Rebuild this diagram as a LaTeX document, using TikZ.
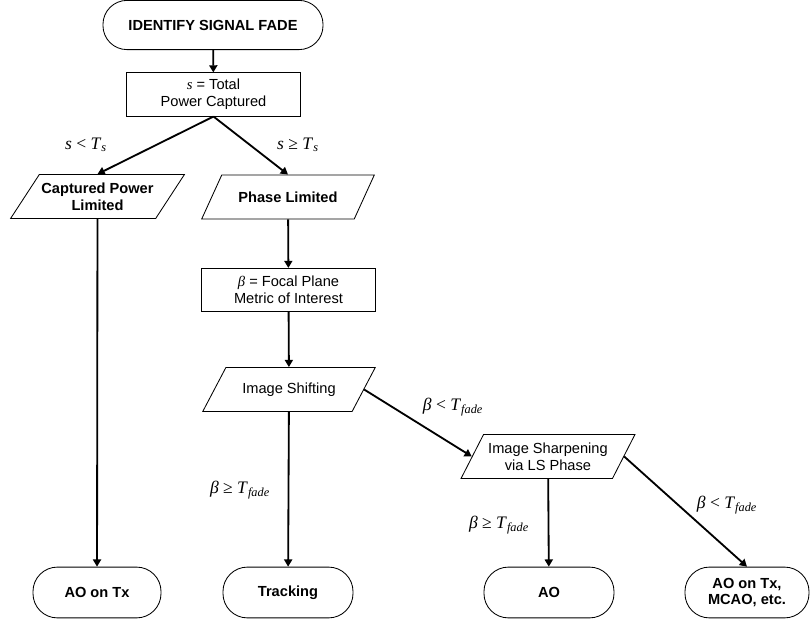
\documentclass[tikz,border=0pt]{standalone}
\usepackage{fontspec}
\setmainfont{Liberation Sans}
\newfontfamily\lblfont{Liberation Serif}
\usetikzlibrary{shapes.geometric, arrows.meta, positioning}
\newcommand{\mvar}[1]{{\lblfont\itshape #1}}
\newcommand{\Tsub}[1]{\textit{T}\textsubscript{\textit{#1}}}

\begin{document}
\begin{tikzpicture}[
    x=0.025cm, y=-0.025cm,
    every node/.style={font=\fontsize{10.4}{12}\selectfont},
    term/.style={draw, rounded corners=0.61cm, minimum height=1.27cm, align=center, font=\fontsize{10.4}{12}\selectfont\bfseries, line width=0.6pt},
    procbox/.style={draw, minimum width=4.33cm, minimum height=1.08cm, align=center, line width=0.6pt},
    iobox/.style={draw, trapezium, trapezium left angle=52.5, trapezium right angle=127.5, trapezium stretches=true, minimum width=4.35cm, minimum height=1.1cm, align=center, inner xsep=1pt, line width=0.6pt},
    cond/.style={font=\fontsize{12.5}{14}\selectfont\lblfont},
    arrow/.style={-{Triangle[length=1.8mm, width=2mm]}, line width=1.3pt}
]
    \useasboundingbox (0,0) rectangle (811,625);

    % Start and total power
    \node[term, minimum width=5.5cm, minimum height=1.23cm, rounded corners=0.6cm] (start) at (213,25) {IDENTIFY SIGNAL FADE};
    \node[procbox] (power) at (213.5,94.5) {\mvar{s} = Total\\Power Captured};

    % First split
    \node[iobox, font=\fontsize{10.4}{12}\selectfont\bfseries] (captured) at (97.5,196.5) {Captured Power\\Limited};
    \node[iobox, font=\fontsize{10.4}{12}\selectfont\bfseries] (phase) at (288,197) {Phase Limited};

    % Phase branch
    \node[procbox] (metric) at (288.5,290) {\mvar{β} = Focal Plane\\Metric of Interest};
    \node[iobox] (shift) at (289,389.5) {Image Shifting};
    \node[iobox, trapezium left angle=60, trapezium right angle=120] (sharp) at (548,456.5) {Image Sharpening\\via LS Phase};

    % Outcomes
    \node[term, minimum width=3.2cm] (aotx) at (97,592.5) {AO on Tx};
    \node[term, minimum width=3.25cm] (track) at (288,592.5) {Tracking};
    \node[term, minimum width=3.25cm] (ao) at (549,592.5) {AO};
    \node[term, minimum width=3.1cm] (mcao) at (747,592.5) {AO on Tx,\\MCAO, etc.};

    % Conditions
    \node[cond] (slow) at (86,145) {\textit{s} < \Tsub{s}};
    \node[cond] (shigh) at (298,145) {\textit{s} ≥ \Tsub{s}};
    \node[cond] (blow1) at (453,407) {\textit{β} < \Tsub{fade}};
    \node[cond] (bhigh1) at (240,490) {\textit{β} ≥ \Tsub{fade}};
    \node[cond] (bhigh2) at (499,525) {\textit{β} ≥ \Tsub{fade}};
    \node[cond] (blow2) at (727,505) {\textit{β} < \Tsub{fade}};

    % Arrows
    \draw[arrow] (start) -- (power);
    \draw[arrow] (power.south) -- (captured.north);
    \draw[arrow] (power.south) -- (phase.north);
    \draw[arrow] (captured) -- (aotx);
    \draw[arrow] (phase) -- (metric);
    \draw[arrow] (metric) -- (shift);
    \draw[arrow] (shift) -- (track);
    \draw[arrow] (shift.east) -- (sharp.west);
    \draw[arrow] (sharp) -- (ao);
    \draw[arrow] (sharp.east) -- (mcao.north);
\end{tikzpicture}
\end{document}
